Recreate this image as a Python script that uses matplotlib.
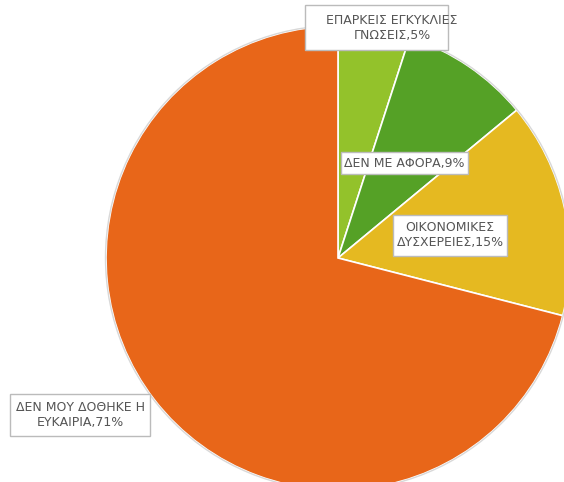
import matplotlib.pyplot as plt
from matplotlib.patches import Rectangle, Circle

# slice data, clockwise from the top
labels = ['ΕΠΑΡΚΕΙΣ ΕΓΚΥΚΛΙΕΣ\nΓΝΩΣΕΙΣ', 'ΔΕΝ ΜΕ ΑΦΟΡΑ', 'ΟΙΚΟΝΟΜΙΚΕΣ\nΔΥΣΧΕΡΕΙΕΣ',
          'ΔΕΝ ΜΟΥ ΔΟΘΗΚΕ Η\nΕΥΚΑΙΡΙΑ']
values = [5, 9, 15, 71]
colors = ['#93C22B', '#55A126', '#E5B921', '#E86619']

W, H = 564, 482
fig = plt.figure(figsize=(W / 100, H / 100), dpi=100)
ax = fig.add_axes([0, 0, 1, 1])

cx, cy, r = 338, H - 258, 232
ax.pie(values, colors=colors, startangle=90, counterclock=False,
       radius=r, center=(cx, cy), frame=True,
       wedgeprops=dict(edgecolor='white', linewidth=1.2))
# faint grey rim round the pie
ax.add_patch(Circle((cx, cy), r + 0.5, fill=False, edgecolor='#D8D8D8', linewidth=1.0, zorder=2))
ax.set_xlim(0, W)
ax.set_ylim(0, H)
ax.set_aspect('equal')
ax.axis('off')

# label boxes: (text x, text y, box left, box top, box right, box bottom) in pixels
boxes = [
    (392, 28, 305, 5, 448, 50),
    (404, 163, 341, 152, 468, 174),
    (450, 235, 393, 215, 507, 256),
    (80, 415, 10, 394, 150, 436),
]
for lab, val, (tx, ty, x0, y0, x1, y1) in zip(labels, values, boxes):
    ax.add_patch(Rectangle((x0, H - y1), x1 - x0, y1 - y0, facecolor='white',
                           edgecolor='#BBBBBB', linewidth=1, zorder=3))
    ax.text(tx, H - ty, f'{lab},{val}%', ha='center', va='center',
            fontsize=9, color='#555555', linespacing=1.2, zorder=4,
            family='DejaVu Sans')

fig.savefig('out.png', dpi=100)
